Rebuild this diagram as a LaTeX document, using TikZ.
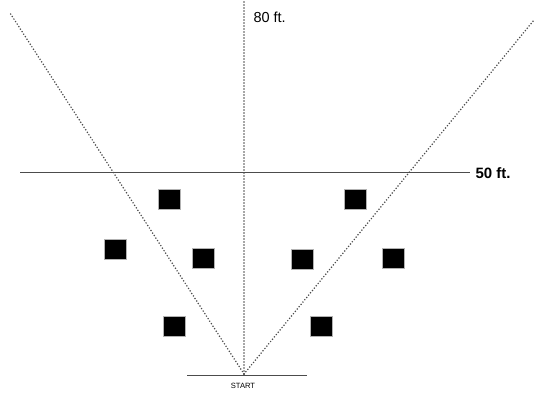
\documentclass[tikz,border=0pt]{standalone}
\usepackage{fontspec}
\setmainfont{Liberation Sans}
\begin{document}
\begin{tikzpicture}[x=1pt,y=-1pt,
  cone/.style={draw=gray!60, fill=black, line width=0.6pt, inner sep=0pt, minimum width=22pt, minimum height=20pt},
  sight/.style={draw=black!70, line width=1.7pt, line cap=round, dash pattern=on 0pt off 3pt}]
  \useasboundingbox (0,0) rectangle (534,393);
  \coordinate (0) at (244.00,374.00);
  \coordinate (top) at (244.00,0.00);
  \coordinate (tl) at (10.00,13.00);
  \coordinate (tr) at (534.00,20.00);
  \coordinate (ll) at (20.00,172.00);
  \coordinate (lr) at (470.00,172.00);
  \coordinate (sl) at (187.00,375.00);
  \coordinate (sr) at (307.00,375.00);
  \node[cone] (1) at (169.00,199.00) {};
  \node[cone] (2) at (115.00,249.00) {};
  \node[cone] (3) at (203.00,258.50) {};
  \node[cone] (4) at (174.50,326.50) {};
  \node[cone] (5) at (355.50,199.00) {};
  \node[cone] (6) at (302.00,259.00) {};
  \node[cone] (7) at (393.50,258.00) {};
  \node[cone] (8) at (321.50,326.50) {};
  \node[anchor=west, font=\fontsize{14.5}{16}\selectfont] (80) at (250.00,17.00) {80 ft.};
  \node[anchor=west, font=\fontsize{15}{17}\selectfont\bfseries] (50) at (472.00,173.00) {50 ft.};
  \node[font=\fontsize{7.6}{9}\selectfont] (start) at (243.00,386.00) {START};
  % Draw the lines of sight
  \draw[sight] (0) -- (top);
  \draw[sight] (0) -- (tl);
  \draw[sight] (0) -- (tr);
  % Draw the marks
  \draw[black!70, line width=0.9pt] (ll) -- (lr);
  \draw[black!70, line width=0.9pt] (sl) -- (sr);
\end{tikzpicture}
\end{document}
